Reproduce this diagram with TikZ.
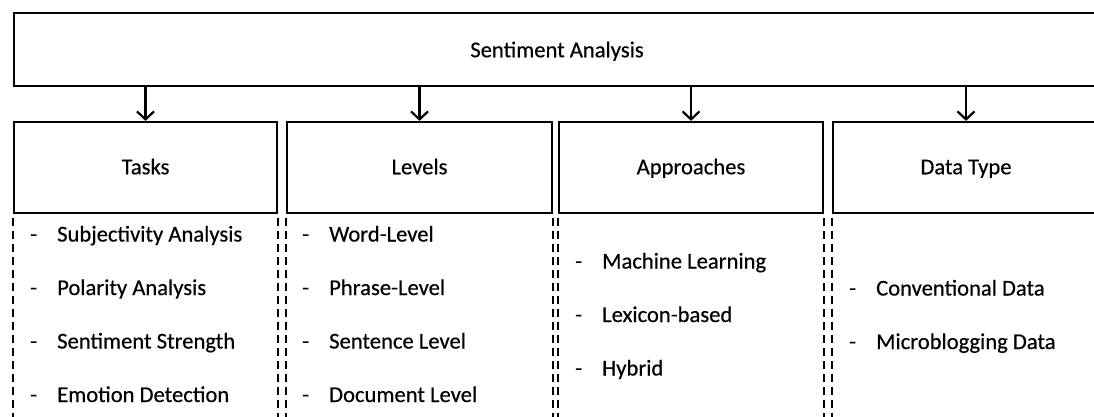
\documentclass[tikz,border=0pt]{standalone}
\usepackage{fontspec}
\setmainfont{Carlito}[FakeBold=0.4]
\usetikzlibrary{arrows.meta,positioning}

\newcommand{\dashitem}[1]{\makebox[27pt][l]{-}#1}

\begin{document}
\begin{tikzpicture}[x=1pt,y=-1pt,
    font=\fontsize{22.6pt}{27pt}\selectfont,
    box/.style={draw,line width=2.2pt,inner sep=0pt,minimum height=91pt,text height=16pt,text depth=2.5pt},
    dashline/.style={line width=2.6pt,dash pattern=on 8pt off 5pt},
    item/.style={anchor=west,inner sep=0pt,text height=16pt,text depth=5pt},
    arr/.style={line width=2.2pt,-{Straight Barb[length=8pt,width=17pt]}}]
  \useasboundingbox (0,0) rectangle (1094,416);
  % main box
  \node[box,minimum width=1086pt,minimum height=73pt,text depth=0.5pt] (sa) at (557,49.5) {Sentiment Analysis};
  % categories
  \node[box,minimum width=263pt] (tasks) at (145.5,167.5) {Tasks};
  \node[box,minimum width=265pt] (levels) at (419.5,167.5) {Levels};
  \node[box,minimum width=264pt] (appr) at (691,167.5) {Approaches};
  \node[box,minimum width=266pt] (data) at (966,167.5) {Data Type};
  \foreach \c in {tasks,levels,appr,data}
    \draw[arr] (sa.south -| \c.north) -- (\c.north);
  % dashed sides
  \coordinate (floor) at (0,425);
  \foreach \c in {tasks,levels,appr,data}{
    \draw[dashline] ([yshift=-4pt]\c.south west) -- (\c.south west |- floor);
    \draw[dashline] ([yshift=-4pt]\c.south east) -- (\c.south east |- floor);
  }
  % lists
  \foreach \txt [count=\i] in {Subjectivity Analysis,Polarity Analysis,Sentiment Strength,Emotion Detection}
    \node[item] (t\i) at (30,182.5+53.5*\i) {\dashitem{\txt}};
  \foreach \txt [count=\i] in {Word-Level,Phrase-Level,Sentence Level,Document Level}
    \node[item] (l\i) at (302,182.5+53.5*\i) {\dashitem{\txt}};
  \foreach \txt [count=\i] in {Machine Learning,Lexicon-based,Hybrid}
    \node[item] (a\i) at (575,209.5+53.5*\i) {\dashitem{\txt}};
  \foreach \txt [count=\i] in {Conventional Data,Microblogging Data}
    \node[item] (d\i) at (849,236.5+53.5*\i) {\dashitem{\txt}};
\end{tikzpicture}
\end{document}
